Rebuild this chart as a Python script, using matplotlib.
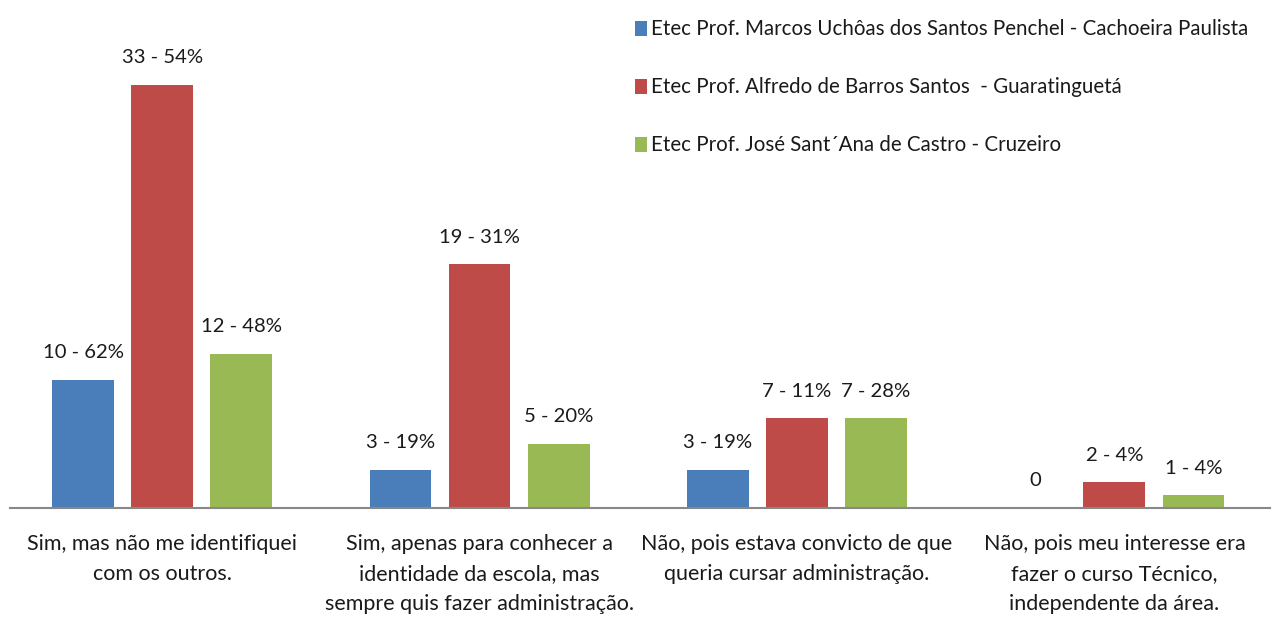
import matplotlib.pyplot as plt
import numpy as np

categories = ["Sim, mas não me identifiquei\ncom os outros.",
              "Sim, apenas para conhecer a\nidentidade da escola, mas\nsempre quis fazer administração.",
              "Não, pois estava convicto de que\nqueria cursar administração.",
              "Não, pois meu interesse era\nfazer o curso Técnico,\nindependente da área."]
series_names = ["Etec Prof. Marcos Uchôas dos Santos Penchel - Cachoeira Paulista",
                "Etec Prof. Alfredo de Barros Santos  - Guaratinguetá",
                "Etec Prof. José Sant´Ana de Castro - Cruzeiro"]
cachoeira = [10, 3, 3, 0]
guaratingueta = [33, 19, 7, 2]
cruzeiro = [12, 5, 7, 1]
cachoeira_lbl = ["10 - 62%", "3 - 19%", "3 - 19%", "0"]
guaratingueta_lbl = ["33 - 54%", "19 - 31%", "7 - 11%", "2 - 4%"]
cruzeiro_lbl = ["12 - 48%", "5 - 20%", "7 - 28%", "1 - 4%"]

colors = ["#4a7ebb", "#be4b48", "#98b954"]
plt.rcParams['font.family'] = ['Lato', 'DejaVu Sans']

fig = plt.figure(figsize=(12.77, 6.19), dpi=100)
ax = fig.add_axes([10 / 1277, 111 / 619, 1260 / 1277, 449 / 619])

x = np.arange(len(categories))
w = 0.195
off = 0.249
for i, (vals, lbls) in enumerate([(cachoeira, cachoeira_lbl),
                                  (guaratingueta, guaratingueta_lbl),
                                  (cruzeiro, cruzeiro_lbl)]):
    pos = x + (i - 1) * off
    ax.bar(pos, vals, width=w, color=colors[i], label=series_names[i])
    for p, v, t in zip(pos, vals, lbls):
        ax.annotate(t, (p, v), xytext=(0, 19.5), textcoords='offset points',
                    ha='center', va='center', fontsize=14.6, color='#1a1a1a')

ax.set_xlim(-0.479, 3.49)
ax.set_ylim(0, 35)
for s in ['top', 'right', 'left']:
    ax.spines[s].set_visible(False)
ax.spines['bottom'].set_color('#888888')
ax.spines['bottom'].set_linewidth(1.5)
ax.set_yticks([])
ax.set_xticks(x)
ax.set_xticklabels(categories, fontsize=15.5, color='#1a1a1a', linespacing=1.62)
ax.tick_params(axis='x', length=0, pad=19)

fig.legend(loc='upper left', bbox_to_anchor=(625 / 1277, 1 - 9 / 619), frameon=False,
           fontsize=14.8, handlelength=0.55, handleheight=0.75, handletextpad=0.2,
           labelspacing=1.85, borderpad=0, labelcolor='#1a1a1a')

fig.savefig("out.png", dpi=100)
